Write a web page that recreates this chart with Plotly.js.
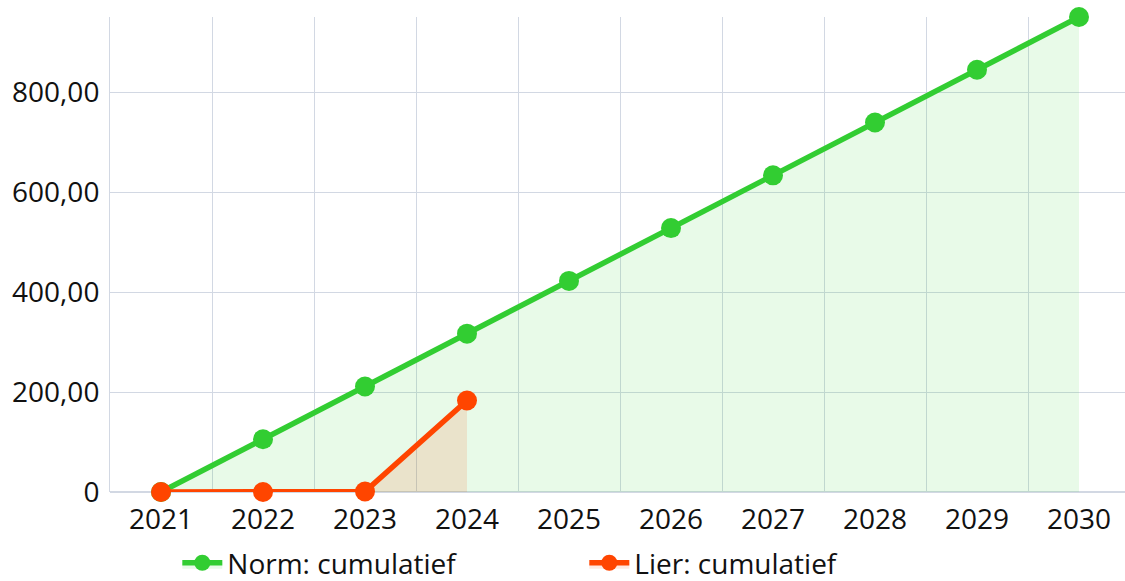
<!DOCTYPE html>
<html>
<head>
<meta charset="utf-8">
<script src="https://cdn.plot.ly/plotly-3.0.1.min.js"></script>
<style>
  html, body { margin: 0; padding: 0; overflow: hidden; background: #fff; }
  #chart { width: 1130px; height: 581px; }
</style>
</head>
<body>
<div id="chart"></div>
<script>
// --- data ---
const years = ["2021", "2022", "2023", "2024", "2025", "2026", "2027", "2028", "2029", "2030"];
const normCum = [0, 105.6, 211.1, 316.7, 422.2, 527.8, 633.3, 738.9, 844.4, 950];
const lierYears = ["2021", "2022", "2023", "2024"];
const lierCum = [0, 0, 1, 183];
const yTickVals = [0, 200, 400, 600, 800];
const yTickText = ["0", "200,00", "400,00", "600,00", "800,00"];

const GREEN = "#32cd32";
const ORANGE = "#ff4500";

const traces = [
    {
        type: "scatter",
        mode: "lines+markers",
        name: "Norm: cumulatief",
        x: years,
        y: normCum,
        fill: "tozeroy",
        fillcolor: "rgba(50,205,50,0.11)",
        line: { color: GREEN, width: 5.5 },
        marker: { color: GREEN, size: 20 },
        cliponaxis: false
    },
    {
        type: "scatter",
        mode: "lines+markers",
        name: "Lier: cumulatief",
        x: lierYears,
        y: lierCum,
        fill: "tozeroy",
        fillcolor: "rgba(255,69,0,0.12)",
        line: { color: ORANGE, width: 5.5 },
        marker: { color: ORANGE, size: 20 },
        cliponaxis: false
    }
];

const layout = {
    width: 1130,
    height: 581,
    margin: { l: 110, r: 0, t: 17, b: 89, autoexpand: false },
    paper_bgcolor: "#fff",
    plot_bgcolor: "#fff",
    font: { family: "Open Sans, Noto Sans, sans-serif", size: 28, color: "#111" },
    showlegend: true,
    legend: {
        orientation: "h",
        x: 0.066, xanchor: "left",
        y: -0.097, yanchor: "top",
        itemwidth: 40,
        entrywidth: 352,
        entrywidthmode: "pixels",
        font: { size: 28 }
    },
    xaxis: {
        type: "category",
        range: [-0.5, 9.5],
        tickson: "boundaries",
        showgrid: true,
        gridcolor: "#d2d8e3",
        gridwidth: 1,
        ticks: "",
        ticklabelstandoff: 8,
        showline: false,
        zeroline: false,
        fixedrange: true
    },
    yaxis: {
        range: [0, 950],
        tickvals: yTickVals,
        ticktext: yTickText,
        showgrid: true,
        gridcolor: "#d2d8e3",
        gridwidth: 1,
        zeroline: true,
        zerolinecolor: "#d2d8e3",
        zerolinewidth: 2,
        ticks: "",
        ticklabelstandoff: 4,
        showline: true,
        linecolor: "#d2d8e3",
        linewidth: 1,
        fixedrange: true
    }
};

Plotly.newPlot("chart", traces, layout, { displayModeBar: false, staticPlot: true });
</script>
</body>
</html>
